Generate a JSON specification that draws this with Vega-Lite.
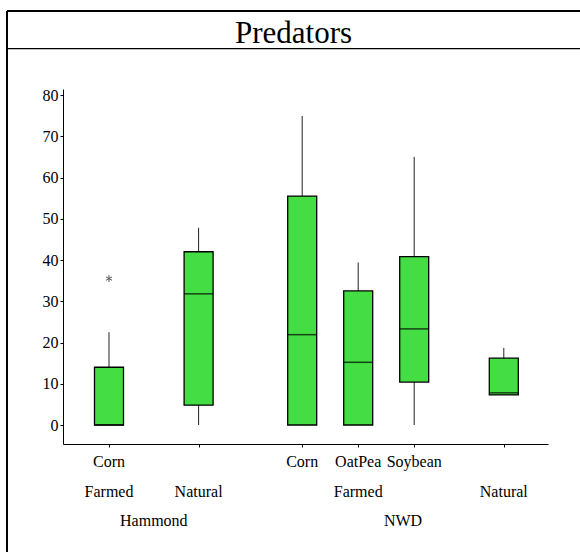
{
  "$schema": "https://vega.github.io/schema/vega-lite/v6.json",
  "width": 485,
  "height": 355,
  "autosize": {"type": "none"},
  "padding": {"left": 63, "top": 89, "right": 32, "bottom": 108},
  "background": "white",
  "config": {
    "view": {"stroke": null},
    "font": "Liberation Serif",
    "axis": {
      "domainColor": "black",
      "tickColor": "black",
      "labelColor": "black",
      "labelFont": "Liberation Serif",
      "labelFontSize": 16,
      "grid": false,
      "tickSize": 3,
      "domainWidth": 1,
      "tickWidth": 1
    }
  },
  "datasets": {
    "boxes": [
      {"site": "Hammond", "type": "Farmed", "crop": "Corn", "slot": 1, "low": 0, "q1": 0, "median": 0, "q3": 14.0, "high": 22.5},
      {"site": "Hammond", "type": "Natural", "crop": "", "slot": 2.6, "low": 0, "q1": 4.8, "median": 31.8, "q3": 42.0, "high": 47.8},
      {"site": "NWD", "type": "Farmed", "crop": "Corn", "slot": 4.45, "low": 0, "q1": 0, "median": 21.9, "q3": 55.5, "high": 74.9},
      {"site": "NWD", "type": "Farmed", "crop": "OatPea", "slot": 5.45, "low": 0, "q1": 0, "median": 15.2, "q3": 32.5, "high": 39.4},
      {"site": "NWD", "type": "Farmed", "crop": "Soybean", "slot": 6.45, "low": 0, "q1": 10.4, "median": 23.3, "q3": 40.8, "high": 65.0},
      {"site": "NWD", "type": "Natural", "crop": "", "slot": 8.05, "low": 7.3, "q1": 7.3, "median": 7.8, "q3": 16.2, "high": 18.7}
    ],
    "outliers": [
      {"site": "Hammond", "type": "Farmed", "crop": "Corn", "slot": 1, "value": 35.5}
    ]
  },
  "layer": [
    {
      "data": {"values": [{}]},
      "mark": {"type": "rule", "color": "black", "strokeWidth": 2, "strokeCap": "butt"},
      "encoding": {
        "x": {"datum": -0.8214, "type": "quantitative", "scale": {"domain": [0.1786, 8.8393], "nice": false, "zero": false, "padding": 0}, "title": null},
        "y": {"datum": 100.36, "type": "quantitative", "scale": {"domain": [-4.606, 81.455], "nice": false, "zero": false, "padding": 0}, "title": null},
        "y2": {"datum": -32.73}
      }
    },
    {
      "data": {"values": [{}]},
      "mark": {"type": "rule", "color": "black", "strokeWidth": 2, "strokeCap": "butt"},
      "encoding": {
        "x": {"datum": -0.8214, "type": "quantitative", "title": null},
        "x2": {"datum": 9.6},
        "y": {"datum": 100.36, "type": "quantitative", "title": null}
      }
    },
    {
      "data": {"values": [{}]},
      "mark": {"type": "rule", "color": "black", "strokeWidth": 1.3, "strokeCap": "butt"},
      "encoding": {
        "x": {"datum": -0.8214, "type": "quantitative", "title": null},
        "x2": {"datum": 9.6},
        "y": {"datum": 91.22, "type": "quantitative", "title": null}
      }
    },
    {
      "data": {"values": [{}]},
      "mark": {"type": "text", "text": "Predators", "font": "Liberation Serif", "fontSize": 31, "color": "black", "align": "center", "baseline": "alphabetic"},
      "encoding": {
        "x": {"datum": 4.295, "type": "quantitative", "title": null},
        "y": {"datum": 92.61, "type": "quantitative", "title": null}
      }
    },
    {
      "data": {"name": "boxes"},
      "mark": {"type": "rule", "color": "#222222", "strokeWidth": 1},
      "encoding": {
        "x": {"field": "slot", "type": "quantitative", "title": null},
        "y": {"field": "low", "type": "quantitative", "title": null},
        "y2": {"field": "high"}
      }
    },
    {
      "data": {"name": "boxes"},
      "mark": {"type": "bar", "fill": "#44DD44", "stroke": "black", "strokeWidth": 1.3, "width": 29},
      "encoding": {
        "x": {
          "field": "slot",
          "type": "quantitative",
          "title": null,
          "axis": {"values": [1, 2.6, 4.45, 5.45, 6.45, 8.05], "labels": false, "title": null}
        },
        "y": {
          "field": "q1",
          "type": "quantitative",
          "title": null,
          "axis": {"values": [0, 10, 20, 30, 40, 50, 60, 70, 80], "labelPadding": 2, "labelFont": "Liberation Serif", "labelFontSize": 16, "title": null}
        },
        "y2": {"field": "q3"}
      }
    },
    {
      "data": {"name": "boxes"},
      "mark": {"type": "tick", "orient": "horizontal", "color": "black", "size": 29, "thickness": 1.5},
      "encoding": {
        "x": {"field": "slot", "type": "quantitative", "title": null},
        "y": {"field": "median", "type": "quantitative", "title": null}
      }
    },
    {
      "data": {"name": "outliers"},
      "mark": {
        "type": "point",
        "shape": "M0,-1L0,1M-0.87,-0.5L0.87,0.5M-0.87,0.5L0.87,-0.5",
        "size": 49,
        "filled": false,
        "stroke": "#555555",
        "strokeWidth": 1,
        "opacity": 1
      },
      "encoding": {
        "x": {"field": "slot", "type": "quantitative", "title": null},
        "y": {"field": "value", "type": "quantitative", "title": null}
      }
    },
    {
      "data": {"name": "boxes"},
      "mark": {"type": "text", "font": "Liberation Serif", "fontSize": 16, "color": "black", "align": "center", "baseline": "alphabetic"},
      "encoding": {
        "x": {"field": "slot", "type": "quantitative", "title": null},
        "y": {"datum": -10.18, "type": "quantitative", "title": null},
        "text": {"field": "crop"}
      }
    },
    {
      "data": {"name": "boxes"},
      "mark": {"type": "text", "font": "Liberation Serif", "fontSize": 16, "color": "black", "align": "center", "baseline": "alphabetic"},
      "encoding": {
        "x": {"aggregate": "mean", "field": "slot", "type": "quantitative", "title": null},
        "y": {"datum": -17.45, "type": "quantitative", "title": null},
        "text": {"field": "type"},
        "detail": {"field": "site"}
      }
    },
    {
      "data": {"name": "boxes"},
      "transform": [
        {"aggregate": [{"op": "min", "field": "slot", "as": "first"}, {"op": "max", "field": "slot", "as": "last"}], "groupby": ["site"]},
        {"calculate": "(datum.first + datum.last) / 2", "as": "centre"}
      ],
      "mark": {"type": "text", "font": "Liberation Serif", "fontSize": 16, "color": "black", "align": "center", "baseline": "alphabetic"},
      "encoding": {
        "x": {"field": "centre", "type": "quantitative", "title": null},
        "y": {"datum": -24.49, "type": "quantitative", "title": null},
        "text": {"field": "site"}
      }
    }
  ]
}
